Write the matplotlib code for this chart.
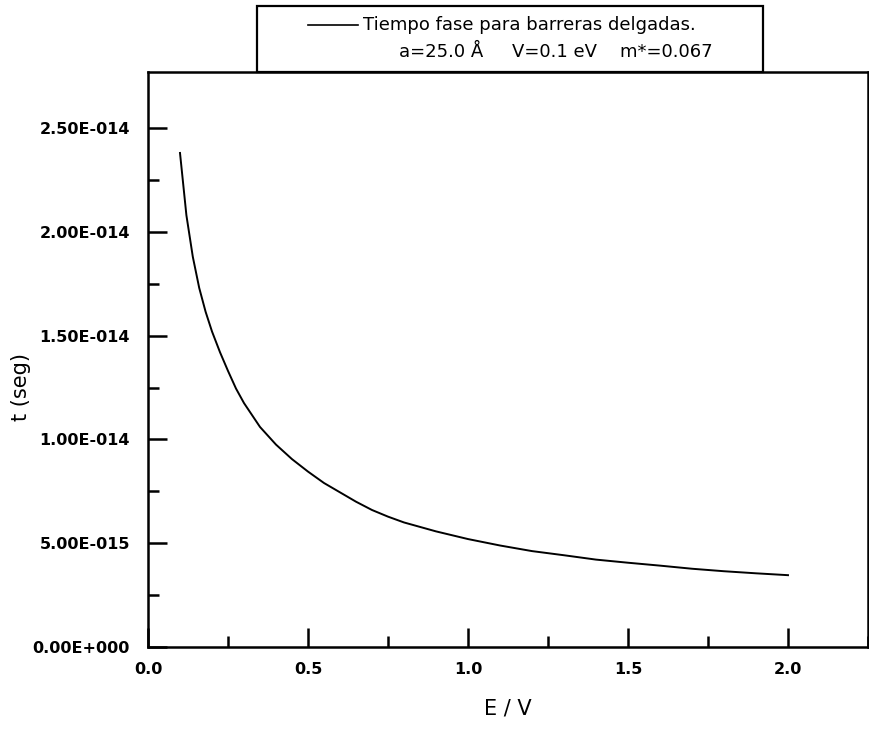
import matplotlib
matplotlib.use("Agg")
import matplotlib.pyplot as plt
from matplotlib.patches import Rectangle
from matplotlib.lines import Line2D
from matplotlib.ticker import FuncFormatter, MultipleLocator, FixedLocator

# E/V and phase time (s)
energy = [0.1, 0.12, 0.14, 0.16, 0.18, 0.2, 0.225, 0.25, 0.275, 0.3, 0.35,
          0.4, 0.45, 0.5, 0.55, 0.6, 0.65, 0.7, 0.75, 0.8, 0.9, 1.0,
          1.1, 1.2, 1.3, 1.4, 1.5, 1.6, 1.7, 1.8, 1.9, 2.0]
t_phase = [2.38e-14, 2.08e-14, 1.88e-14, 1.73e-14, 1.615e-14, 1.52e-14,
           1.42e-14, 1.33e-14, 1.245e-14, 1.175e-14, 1.06e-14,
           0.975e-14, 0.905e-14, 0.845e-14, 0.79e-14, 0.745e-14, 0.70e-14,
           0.66e-14, 0.628e-14, 0.60e-14, 0.557e-14, 0.52e-14,
           0.489e-14, 0.462e-14, 0.442e-14, 0.421e-14, 0.406e-14, 0.392e-14,
           0.377e-14, 0.365e-14, 0.355e-14, 0.346e-14]

legend_line1 = "Tiempo fase para barreras delgadas."
legend_line2 = "a=25.0 Å     V=0.1 eV    m*=0.067"

plt.rcParams['font.family'] = ['DejaVu Sans']

W, H = 870, 737


def fx(px):
    return px / W


def fy(py):
    return 1 - py / H


fig = plt.figure(figsize=(8.7, 7.37), dpi=100)
ax = fig.add_axes([fx(148), fy(647), fx(868) - fx(148), fy(72) - fy(647)])

ax.plot(energy, t_phase, color='black', lw=1.4)

ax.set_xlim(0, 2.25)
ax.set_ylim(0, 2.77e-14)

ax.xaxis.set_major_locator(MultipleLocator(0.5))
ax.xaxis.set_minor_locator(MultipleLocator(0.25))
ax.yaxis.set_major_locator(MultipleLocator(0.5e-14))
ax.yaxis.set_minor_locator(FixedLocator([0.25e-14, 0.75e-14, 1.25e-14, 1.75e-14, 2.25e-14]))


def sci_fmt(v, pos):
    m, e = f"{v:.2E}".split('E')
    e = int(e)
    return f"{m}E{'+' if e >= 0 else '-'}{abs(e):03d}"


ax.yaxis.set_major_formatter(FuncFormatter(sci_fmt))
ax.xaxis.set_major_formatter(FuncFormatter(lambda v, p: f"{v:.1f}"))

ax.tick_params(which='both', direction='in', top=False, right=False, width=1.8)
ax.tick_params(which='major', length=14)
ax.tick_params(which='minor', length=8)
ax.tick_params(axis='y', which='major', pad=13)
ax.tick_params(axis='x', which='major', pad=11)
for lab in ax.get_xticklabels() + ax.get_yticklabels():
    lab.set_fontsize(11.5)
    lab.set_fontweight('bold')

for sp in ax.spines.values():
    sp.set_linewidth(1.8)

ax.set_xlabel("E / V", fontsize=15)
ax.set_ylabel("t (seg)", fontsize=15)
ax.xaxis.set_label_coords(0.5, -0.09)
ax.yaxis.set_label_coords(-0.162, 0.452)

# legend box sitting on top of the axes
fig.add_artist(Rectangle((fx(257), fy(72)), fx(763) - fx(257), fy(6) - fy(72),
                         transform=fig.transFigure, fill=False, ec='black', lw=1.6))
fig.add_artist(Line2D([fx(308), fx(358)], [fy(25), fy(25)],
                      transform=fig.transFigure, color='black', lw=1.2))
fig.text(fx(363), fy(25), legend_line1, ha='left', va='center', fontsize=13)
fig.text(fx(713), fy(52), legend_line2, ha='right', va='center', fontsize=13)

fig.savefig("out.png", dpi=100)
